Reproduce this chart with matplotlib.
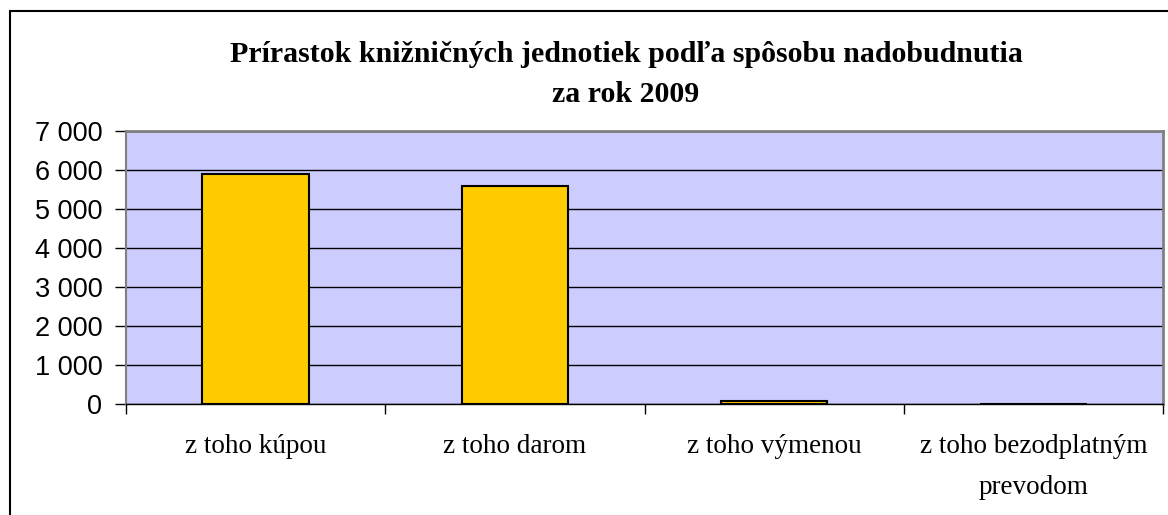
import matplotlib
matplotlib.use("Agg")
import matplotlib.pyplot as plt
from matplotlib.patches import Rectangle
from matplotlib.ticker import FuncFormatter, MultipleLocator

# data
kategorie = ["z toho kúpou", "z toho darom", "z toho výmenou", "z toho bezodplatným\nprevodom"]
hodnoty = [5890, 5600, 70, 0]

fig = plt.figure(figsize=(11.68, 5.15), dpi=100)
ax = fig.add_axes([126/1168, 1-403.5/515, (1163-126)/1168, (403.5-131)/515])

# outer frame of the chart object
fig.patches.append(Rectangle((10/1168, -0.1), 1.2, 1.1-11/515, transform=fig.transFigure,
                             fill=False, edgecolor="black", linewidth=1.5))

ax.set_facecolor("#CCCCFF")
x = range(len(kategorie))
ax.bar(x, hodnoty, width=0.41, color="#FFCC00", edgecolor="black", linewidth=1.5, zorder=3)

ax.set_xlim(-0.5, 3.5)
ax.set_ylim(0, 7000)
ax.yaxis.set_major_locator(MultipleLocator(1000))
ax.yaxis.set_major_formatter(FuncFormatter(lambda v, p: f"{int(v):,}".replace(",", " ")))
ax.grid(axis="y", color="black", linewidth=1, zorder=1)
ax.set_axisbelow(True)

ax.set_xticks([-0.5, 0.5, 1.5, 2.5, 3.5])
ax.set_xticklabels([])
ax.set_xticks(list(x), minor=True)
ax.set_xticklabels(kategorie, minor=True, fontfamily="Liberation Serif", fontsize=19.5, linespacing=1.85)
ax.tick_params(axis="x", which="minor", length=0, pad=22)
ax.tick_params(axis="x", which="major", length=7, width=1, color="black")
ax.tick_params(axis="y", length=8, width=1, pad=9, labelsize=19.5)
for lab in ax.get_yticklabels():
    lab.set_fontfamily("Liberation Sans")

for s in ["top", "right"]:
    ax.spines[s].set_color("#808080")
    ax.spines[s].set_linewidth(2)
ax.spines["left"].set_color("#808080")
ax.spines["left"].set_linewidth(1.5)
ax.spines["bottom"].set_color("black")
ax.spines["bottom"].set_linewidth(1)

fig.text(626/1168, 1-74.5/515, "Prírastok knižničných jednotiek podľa spôsobu nadobudnutia\nza rok 2009",
         ha="center", va="center", fontfamily="Liberation Serif", fontweight="bold",
         fontsize=21.5, linespacing=1.6)

fig.savefig("out.png", dpi=100)
